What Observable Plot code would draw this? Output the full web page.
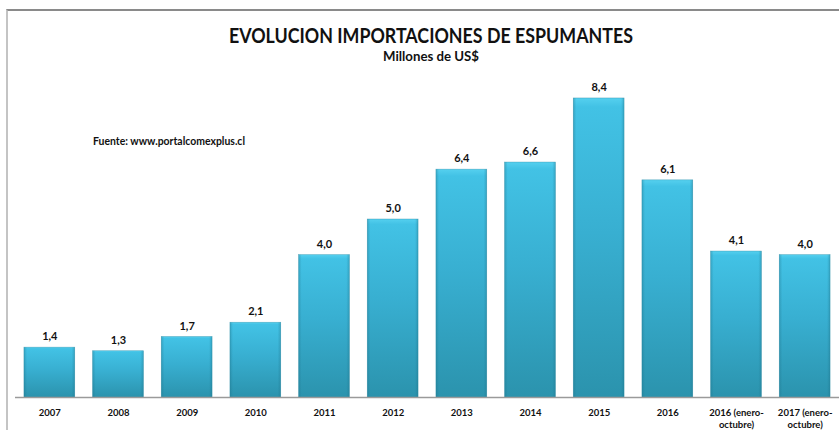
<!DOCTYPE html>
<html>
<head>
<meta charset="utf-8">
<script src="https://cdn.jsdelivr.net/npm/d3@7"></script>
<script src="https://cdn.jsdelivr.net/npm/@observablehq/plot@0.6"></script>
<style>
  html, body { margin: 0; padding: 0; background: #fff; }
  #wrap { position: relative; width: 839px; height: 430px; overflow: hidden; font-family: Lato, "Open Sans", sans-serif; }
  #frame { position: absolute; left: 6px; top: 9px; width: 840px; height: 430px; border-left: 2px solid #c4c4c4; border-top: 2px solid #8a8a8a; }
  .ctr { position: absolute; left: 431px; transform-origin: 0 0; white-space: nowrap; color: #111; }
  #title { top: 22px; font-weight: 700; font-size: 21px; }
  #subtitle { top: 48px; font-weight: 700; font-size: 13px; }
  #source { position: absolute; left: 93px; top: 135px; font-weight: 700; font-size: 10.5px; color: #111; white-space: nowrap; transform-origin: 0 0; }
  #chart { position: absolute; left: 0; top: 0; }
</style>
</head>
<body>
<div id="wrap">
  <div id="frame"></div>
  <div id="chart"></div>
  <div id="title" class="ctr">EVOLUCION IMPORTACIONES DE ESPUMANTES</div>
  <div id="subtitle" class="ctr">Millones de US$</div>
  <div id="source">Fuente: www.portalcomexplus.cl</div>
</div>
<script>
const categories = ["2007","2008","2009","2010","2011","2012","2013","2014","2015","2016","2016 (enero-\noctubre)","2017 (enero-\noctubre)"];
const values = [1.4, 1.3, 1.7, 2.1, 4.0, 5.0, 6.4, 6.6, 8.4, 6.1, 4.1, 4.0];

const data = categories.map((c, i) => ({category: c, value: values[i]}));
const fmt = v => v.toFixed(1).replace(".", ",");

const chart = Plot.plot({
  width: 839,
  height: 430,
  marginLeft: 15,
  marginRight: 0,
  marginTop: 41,
  marginBottom: 33,
  style: {fontFamily: "Lato, 'Open Sans', sans-serif", background: "transparent"},
  x: {domain: categories, paddingInner: 0.26, paddingOuter: 0.13, round: false, label: null},
  y: {domain: [0, 10], axis: null},
  marks: [
    Plot.barY(data, {x: "category", y: "value", fill: "url(#barGrad)", stroke: "#2a8aa3", strokeWidth: 0.6, strokeOpacity: 0.6}),
    Plot.barY(data, {x: "category", y: "value", fill: "url(#barSide)"}),
    Plot.ruleY([0], {stroke: "#9a9a9a", strokeWidth: 1.5}),
    Plot.text(data, {x: "category", y: "value", text: d => fmt(d.value), dy: -11, fontWeight: 700, fontSize: 11, fill: "#111"}),
    Plot.axisX({tickSize: 0, tickPadding: 9, fontWeight: 700, fontSize: 9.5, lineHeight: 1.35, fill: "#111", label: null, textAnchor: "middle"})
  ]
});

const svg = d3.select(chart);
const defs = svg.insert("defs", ":first-child");
const g = defs.append("linearGradient").attr("id", "barGrad").attr("x1", 0).attr("y1", 0).attr("x2", 0).attr("y2", 1);
g.append("stop").attr("offset", "0%").attr("stop-color", "#55d0ef");
g.append("stop").attr("offset", "3%").attr("stop-color", "#42c2e5");
g.append("stop").attr("offset", "45%").attr("stop-color", "#38afd1");
g.append("stop").attr("offset", "100%").attr("stop-color", "#2b93ad");
const s = defs.append("linearGradient").attr("id", "barSide").attr("x1", 0).attr("y1", 0).attr("x2", 1).attr("y2", 0);
s.append("stop").attr("offset", "0%").attr("stop-color", "#1d6f86").attr("stop-opacity", 0.35);
s.append("stop").attr("offset", "6%").attr("stop-color", "#1d6f86").attr("stop-opacity", 0);
s.append("stop").attr("offset", "94%").attr("stop-color", "#1d6f86").attr("stop-opacity", 0);
s.append("stop").attr("offset", "100%").attr("stop-color", "#1d6f86").attr("stop-opacity", 0.35);

document.getElementById("chart").appendChild(chart);

// fit text widths to the reference's narrower typeface
function fit(id, targetWidth) {
  const el = document.getElementById(id);
  const w = el.getBoundingClientRect().width;
  const k = targetWidth / w;
  if (el.classList.contains("ctr")) {
    el.style.transform = `scaleX(${k}) translateX(-50%)`;
  } else {
    el.style.transform = `scaleX(${k})`;
  }
}
fit("title", 404);
fit("subtitle", 96);
fit("source", 152);
</script>
</body>
</html>
